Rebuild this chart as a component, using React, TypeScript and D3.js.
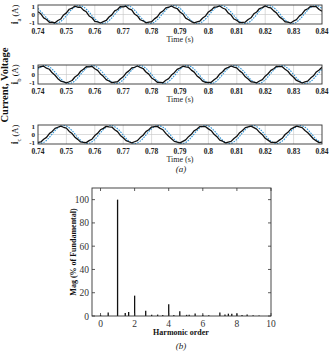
import * as d3 from "d3"

// time axis of the three waveform panels
const timeTicks = [0.74, 0.75, 0.76, 0.77, 0.78, 0.79, 0.8, 0.81, 0.82, 0.83, 0.84]
const timeTickLabels = ["0.74", "0.75", "0.76", "0.77", "0.78", "0.79", "0.8", "0.81", "0.82", "0.83", "0.84"]
const currentTicks = [-1, 0, 1]
const phaseNames = ["a", "b", "c"]

// voltage (blue dotted), sampled every 2 ms from 0.74 s
const voltageA = [
  0.68, 0, -0.68, -1, -0.77, -0.13, 0.59, 0.98, 0.84, 0.25, -0.48, -0.95, -0.91, -0.37, 0.37, 0.91, 0.95, 0.48, -0.25, -0.84, -0.98, -0.59, 0.13, 0.77, 1,
  0.68, 0, -0.68, -1, -0.77, -0.13, 0.59, 0.98, 0.84, 0.25, -0.48, -0.95, -0.91, -0.37, 0.37, 0.91, 0.95, 0.48, -0.25, -0.84, -0.98, -0.59, 0.13, 0.77, 1,
  0.68,
]
const voltageB = [
  0.59, 0.98, 0.84, 0.25, -0.48, -0.95, -0.91, -0.37, 0.37, 0.91, 0.95, 0.48, -0.25, -0.84, -0.98, -0.59, 0.13, 0.77, 1, 0.68, 0, -0.68, -1, -0.77, -0.13,
  0.59, 0.98, 0.84, 0.25, -0.48, -0.95, -0.91, -0.37, 0.37, 0.91, 0.95, 0.48, -0.25, -0.84, -0.98, -0.59, 0.13, 0.77, 1, 0.68, 0, -0.68, -1, -0.77, -0.13,
  0.59,
]
const voltageC = [
  -0.97, -0.88, -0.31, 0.43, 0.93, 0.93, 0.43, -0.31, -0.88, -0.97, -0.54, 0.19, 0.81, 0.99, 0.64, -0.06, -0.73, -1, -0.73, -0.06, 0.64, 0.99, 0.81, 0.19, -0.54,
  -0.97, -0.88, -0.31, 0.43, 0.93, 0.93, 0.43, -0.31, -0.88, -0.97, -0.54, 0.19, 0.81, 0.99, 0.64, -0.06, -0.73, -1, -0.73, -0.06, 0.64, 0.99, 0.81, 0.19, -0.54,
  -0.97,
]

// measured current (black), sampled every 1 ms from 0.74 s
const currentA = [
  0.30, 0.08, -0.38, -0.55, -0.86, -0.84, -0.92, -0.66, -0.50, -0.05,
  0.18, 0.58, 0.70, 0.93, 0.80, 0.82, 0.48, 0.30, -0.16, -0.36,
  -0.76, -0.82, -0.94, -0.78, -0.66, -0.28, -0.04, 0.40, 0.55, 0.88,
  0.84, 0.92, 0.62, 0.50, 0.05, -0.16, -0.58, -0.70, -0.92, -0.84,
  -0.80, -0.48, -0.26, 0.18, 0.38, 0.74, 0.80, 0.94, 0.76, 0.66,
  0.28, 0.06, -0.40, -0.58, -0.78, -0.92, -0.82, -0.72, -0.38, -0.16,
  0.28, 0.48, 0.80, 0.84, 0.94, 0.72, 0.58, 0.16, -0.06, -0.50,
  -0.64, -0.90, -0.86, -0.84, -0.56, -0.36, 0.08, 0.28, 0.66, 0.76,
  0.95, 0.80, 0.72, 0.40, 0.16, -0.26, -0.48, -0.80, -0.84, -0.94,
  -0.72, -0.56, -0.18, 0.06, 0.48, 0.64, 0.90, 0.86, 0.86, 0.56,
  0.36,
]
const currentB = [
  0.78, 0.86, 0.92, 0.70, 0.58, 0.18, -0.08, -0.46, -0.72, -0.82,
  -0.92, -0.80, -0.66, -0.28, -0.06, 0.36, 0.58, 0.86, 0.84, 0.90,
  0.64, 0.46, 0.06, -0.20, -0.56, -0.72, -0.90, -0.84, -0.80, -0.50,
  -0.26, 0.16, 0.40, 0.72, 0.80, 0.94, 0.78, 0.66, 0.28, 0.04,
  -0.38, -0.58, -0.86, -0.86, -0.90, -0.64, -0.46, -0.06, 0.20, 0.56,
  0.72, 0.92, 0.84, 0.80, 0.48, 0.26, -0.16, -0.40, -0.74, -0.88,
  -0.86, -0.86, -0.58, -0.36, 0.06, 0.30, 0.66, 0.78, 0.94, 0.82,
  0.72, 0.40, 0.16, -0.26, -0.50, -0.80, -0.84, -0.92, -0.72, -0.56,
  -0.18, 0.08, 0.46, 0.64, 0.90, 0.86, 0.86, 0.58, 0.36, -0.04,
  -0.30, -0.66, -0.78, -0.94, -0.82, -0.72, -0.40, -0.14, 0.28, 0.50,
  0.80,
]
const currentC = [
  -0.86, -0.82, -0.52, -0.32, 0.10, 0.34, 0.68, 0.80, 0.92, 0.80,
  0.70, 0.34, 0.10, -0.30, -0.54, -0.82, -0.86, -0.90, -0.68, -0.52,
  -0.12, 0.14, 0.52, 0.68, 0.90, 0.84, 0.82, 0.52, 0.32, -0.10,
  -0.36, -0.68, -0.80, -0.92, -0.80, -0.68, -0.34, -0.08, 0.32, 0.52,
  0.82, 0.86, 0.90, 0.68, 0.52, 0.12, -0.20, -0.46, -0.76, -0.84,
  -0.92, -0.76, -0.60, -0.24, 0.02, 0.42, 0.60, 0.88, 0.86, 0.86,
  0.62, 0.42, 0.02, -0.24, -0.62, -0.74, -0.92, -0.84, -0.76, -0.44,
  -0.20, 0.20, 0.44, 0.76, 0.84, 0.92, 0.76, 0.60, 0.24, -0.02,
  -0.42, -0.62, -0.86, -0.86, -0.86, -0.62, -0.42, 0.00, 0.24, 0.60,
  0.76, 0.92, 0.84, 0.76, 0.44, 0.20, -0.14, -0.50, -0.70, -0.90,
  -0.84,
]

// harmonic spectrum
const harmonicOrder = [0, 0.45, 1, 1.45, 1.65, 2, 2.65, 3, 3.35, 3.65, 4, 4.3, 4.65, 5.05, 5.2, 5.55, 6, 6.35, 7, 7.3, 7.5, 7.7, 8, 8.3, 8.6, 8.95, 9.3]
const harmonicMag = [0.8, 3, 100, 2.5, 3.5, 17.5, 4.5, 1, 1.2, 0.8, 10, 0.8, 4, 1, 1, 2.2, 1, 0.6, 3, 1.2, 2, 2, 2.2, 0.8, 1.2, 0.6, 0.4]
const magTicks = [0, 20, 40, 60, 80, 100]
const orderTicks = [0, 2, 4, 6, 8, 10]

const serif = "'Liberation Serif', 'DejaVu Serif', serif"

function WavePanel({ top, phase, voltage, current }: { top: number; phase: string; voltage: number[]; current: number[] }) {
  const h = 19
  const x = d3.scaleLinear().domain([0.74, 0.84]).range([38, 322])
  const y = d3.scaleLinear().domain([-1.05, 1.05]).range([top + h, top])

  const vLine = d3
    .line<number>()
    .x((_, i) => x(0.74 + i * 0.002))
    .y((d) => y(d))
    .curve(d3.curveCatmullRom)
  const iLine = d3
    .line<number>()
    .x((_, i) => x(0.74 + i * 0.001))
    .y((d) => y(d))

  const clipId = `clip-${phase}`
  // nudge the outer tick labels so they stay inside the box height
  const tickY = (v: number) => (v === 1 ? y(v) + 4 : v === -1 ? y(v) + 1 : y(v) + 2.8)
  return (
    <g>
      <defs>
        <clipPath id={clipId}>
          <rect x={38} y={top} width={284} height={h} />
        </clipPath>
      </defs>
      <rect x={38} y={top} width={284} height={h} fill="#fff" />
      {timeTicks.slice(1, -1).map((t) => (
        <line key={t} x1={x(t)} x2={x(t)} y1={top} y2={top + h} stroke="#c4c4c4" strokeWidth={0.6} />
      ))}
      <line x1={38} x2={322} y1={y(0)} y2={y(0)} stroke="#c4c4c4" strokeWidth={0.6} />
      <g clipPath={`url(#${clipId})`}>
        <path d={vLine(voltage) || ""} fill="none" stroke="#3597d8" strokeWidth={1.1} strokeDasharray="1.6 1.1" />
        <path d={iLine(current) || ""} fill="none" stroke="#111" strokeWidth={1.3} strokeLinejoin="round" />
      </g>
      <rect x={38} y={top} width={284} height={h} fill="none" stroke="#333" strokeWidth={0.9} />
      {currentTicks.map((v) => (
        <text key={v} x={35} y={tickY(v)} textAnchor="end" fontSize={7} fontWeight="bold" fontFamily={serif} fill="#222">
          {v}
        </text>
      ))}
      {timeTicks.map((t, i) => (
        <text key={t} x={x(t)} y={top + h + 9.5} textAnchor="middle" fontSize={7.5} fontWeight="bold" fontFamily={serif} fill="#222">
          {timeTickLabels[i]}
        </text>
      ))}
      <text x={180} y={top + h + 17.5} textAnchor="middle" fontSize={8} fontFamily={serif} fill="#222">
        Time (s)
      </text>
      <text transform={`translate(18,${top + h / 2}) rotate(-90)`} textAnchor="middle" fontSize={8.5} fontFamily={serif} fill="#111">
        <tspan fontWeight="bold" fontSize={10}>i</tspan>
        <tspan fontSize={6.5} dy={2.5}>{phase}</tspan>
        <tspan dy={-2.5}> (A)</tspan>
      </text>
    </g>
  )
}

function Spectrum() {
  const x = d3.scaleLinear().domain([-0.5, 10]).range([92, 271])
  const y = d3.scaleLinear().domain([0, 110]).range([316, 188])
  const [x0, x1] = x.range()
  const [y0, y1] = y.range()
  return (
    <g>
      {harmonicOrder.map((o, i) => (
        <line key={o} x1={x(o)} x2={x(o)} y1={y(0)} y2={y(harmonicMag[i])} stroke="#111" strokeWidth={1.3} />
      ))}
      <rect x={x0} y={y1} width={x1 - x0} height={y0 - y1} fill="none" stroke="#333" strokeWidth={0.9} />
      {magTicks.map((m) => (
        <g key={m}>
          <line x1={x0} x2={x0 + 3} y1={y(m)} y2={y(m)} stroke="#333" strokeWidth={0.8} />
          <line x1={x1} x2={x1 - 3} y1={y(m)} y2={y(m)} stroke="#333" strokeWidth={0.8} />
          <text x={x0 - 3} y={y(m) + 3.5} textAnchor="end" fontSize={9.5} fontFamily={serif} fill="#333">
            {m}
          </text>
        </g>
      ))}
      {orderTicks.map((o) => (
        <g key={o}>
          <line x1={x(o)} x2={x(o)} y1={y0} y2={y0 - 3} stroke="#333" strokeWidth={0.8} />
          <line x1={x(o)} x2={x(o)} y1={y1} y2={y1 + 3} stroke="#333" strokeWidth={0.8} />
          <text x={x(o)} y={y0 + 11} textAnchor="middle" fontSize={9.5} fontFamily={serif} fill="#333">
            {o}
          </text>
        </g>
      ))}
      <text x={181} y={335} textAnchor="middle" fontSize={8} fontWeight="bold" fontFamily={serif} fill="#111">
        Harmonic order
      </text>
      <text transform={`translate(76,${(y0 + y1) / 2}) rotate(-90)`} textAnchor="middle" fontSize={8} fontWeight="bold" fontFamily={serif} fill="#111">
        Mag (% of Fundamental)
      </text>
      <text x={181} y={349} textAnchor="middle" fontSize={9} fontStyle="italic" fontFamily={serif} fill="#222">
        (b)
      </text>
    </g>
  )
}

export default function App() {
  const voltages = [voltageA, voltageB, voltageC]
  const currents = [currentA, currentB, currentC]
  const tops = [5, 65, 125]
  return (
    <div style={{ position: "absolute", left: 0, top: 0 }}>
      <svg width={330} height={352} style={{ display: "block", background: "#fff" }}>
        {phaseNames.map((p, i) => (
          <WavePanel key={p} top={tops[i]} phase={p} voltage={voltages[i]} current={currents[i]} />
        ))}
        <text transform="translate(8,85) rotate(-90)" textAnchor="middle" fontSize={10.5} fontWeight="bold" fontFamily={serif} fill="#111">
          Current, Voltage
        </text>
        <text x={181} y={172} textAnchor="middle" fontSize={9} fontStyle="italic" fontFamily={serif} fill="#222">
          (a)
        </text>
        <Spectrum />
      </svg>
    </div>
  )
}
